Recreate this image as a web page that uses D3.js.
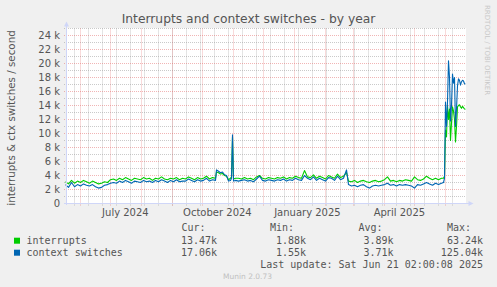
<!DOCTYPE html>
<html>
<head>
<meta charset="utf-8">
<script src="https://cdn.jsdelivr.net/npm/d3@7"></script>
<style>
body { margin: 0; background: #f0f0f0; }
svg { display: block; font-family: "DejaVu Sans", sans-serif; }
.mono { font-family: "DejaVu Sans Mono", monospace; }
</style>
</head>
<body>
<svg id="chart" width="497" height="287"></svg>
<script>
// graph window (munin "by year" = 400 days)
var startDate = new Date(2024, 4, 17, 2, 0, 0);
var endDate = new Date(2025, 5, 21, 2, 0, 8);

// sample positions, in days after startDate
var dayOffsets = [
  0, 3, 6, 9, 12, 15, 18, 21, 24, 27, 30, 33, 36, 39, 42, 45,
  48, 51, 54, 57, 60, 63, 66, 69, 72, 75, 78, 81, 84, 87, 90, 93, 96, 99, 102, 105,
  108, 111, 114, 117, 120, 123, 126, 129, 132, 135, 138, 141, 144, 147, 150,
  151, 153, 155, 157, 159, 161, 163, 165, 166, 167, 168, 170,
  173, 176, 179, 182, 185, 188, 191, 194, 197, 200, 203, 206, 209, 212, 215, 218,
  221, 224, 227, 230, 233, 236, 239, 242, 245, 248, 251, 254, 257, 260, 263, 266,
  269, 272, 275, 278, 281,
  283, 286, 289, 292, 295, 298, 301, 304, 307, 310, 313, 316, 319, 322, 325, 328,
  331, 334, 337, 340, 343, 346, 349, 352, 355, 358, 361, 364, 367, 370, 373, 376,
  378, 379, 380, 381, 382, 383, 384, 385, 386, 387, 388, 389, 390, 391, 392, 393,
  394, 395, 396, 397, 398, 399, 400
];

// interrupts per second, in thousands
var interrupts = [
  3.1, 2.8, 3.3, 2.9, 3.2, 3.0, 3.3, 3.1, 2.9, 3.2, 3.0, 2.8, 2.9, 3.1, 3.0, 3.4,
  3.5, 3.3, 3.6, 3.4, 3.7, 3.5, 3.3, 3.6, 3.5, 3.4, 3.7, 3.5, 3.6, 3.3, 3.6, 3.5, 3.8, 3.5, 3.4, 3.6,
  3.5, 3.7, 3.4, 3.6, 3.5, 3.8, 3.6, 3.4, 3.7, 3.5, 3.6, 3.9, 3.5, 3.7, 3.6,
  4.5, 4.4, 4.2, 4.3, 4.0, 3.9, 3.4, 3.6, 3.8, 9.5, 3.5, 3.6,
  3.6, 3.5, 3.7, 3.5, 3.6, 3.4, 3.8, 4.0, 3.6, 3.5, 3.7, 3.6, 3.5, 3.7, 3.6, 3.8,
  3.5, 3.7, 3.6, 3.9, 3.7, 3.6, 4.7, 3.8, 3.7, 4.1, 3.6, 3.9, 3.7, 3.5, 4.0, 3.8,
  3.6, 4.2, 3.7, 3.9, 4.4,
  3.2, 3.1, 3.3, 3.0, 3.2, 3.3, 3.1, 3.0, 3.2, 3.3, 3.1, 3.2, 3.4, 3.8, 3.2, 3.3,
  3.1, 3.3, 3.2, 3.4, 3.3, 3.2, 3.8, 3.4, 3.3, 3.5, 3.9, 3.6, 3.4, 3.6, 3.4, 3.6,
  3.6, 3.9, 10.5, 9.5, 14.0, 12.0, 13.5, 9.0, 11.5, 13.8, 13.2, 12.0, 8.8, 11.0, 13.8, 14.0,
  14.1, 13.8, 13.6, 13.9, 13.7, 13.5, 13.47
];

// context switches per second, in thousands
var ctxSwitches = [
  2.7, 2.3, 3.0, 2.4, 2.7, 2.5, 2.8, 2.6, 2.5, 2.7, 2.4, 2.2, 2.3, 2.6, 2.7, 2.9,
  3.0, 2.9, 3.2, 3.0, 3.3, 3.1, 2.9, 3.2, 3.1, 3.0, 3.3, 3.1, 3.2, 3.0, 3.3, 3.1, 3.4, 3.2, 3.0, 3.3,
  3.1, 3.4, 3.1, 3.2, 3.2, 3.5, 3.3, 3.1, 3.4, 3.2, 3.3, 3.6, 3.2, 3.4, 3.3,
  4.8, 4.6, 4.4, 4.5, 4.1, 4.0, 3.2, 3.3, 3.6, 9.8, 3.2, 3.3,
  3.2, 3.3, 3.4, 3.2, 3.3, 3.1, 3.5, 3.9, 3.3, 3.2, 3.4, 3.3, 3.2, 3.4, 3.3, 3.5,
  3.2, 3.4, 3.3, 3.6, 3.4, 3.3, 4.0, 3.6, 3.4, 3.8, 3.3, 3.6, 3.4, 3.2, 3.7, 3.6,
  3.3, 3.9, 3.4, 3.6, 4.8,
  2.7, 2.5, 2.6, 2.4, 2.6, 2.7, 2.4, 2.2, 2.5, 2.6, 2.5, 2.6, 2.7, 2.9, 2.6, 2.7,
  2.5, 2.7, 2.6, 2.7, 2.6, 2.5, 2.2, 2.7, 2.6, 2.8, 3.0, 2.8, 2.6, 2.9, 2.7, 2.9,
  3.0, 3.6, 14.5, 11.0, 14.5, 20.4, 18.0, 11.8, 14.0, 18.5, 17.2, 18.0, 11.0, 13.5, 16.8, 17.8,
  17.6, 16.9, 17.4, 17.6, 17.5, 17.1, 17.06
];

var yMajorTicks = [0, 2, 4, 6, 8, 10, 12, 14, 16, 18, 20, 22, 24];
var yMinorTicks = [1, 3, 5, 7, 9, 11, 13, 15, 17, 19, 21, 23, 25];
var monthLabels = ["July 2024", "October 2024", "January 2025", "April 2025"];
var monthLabelDates = ["2024-07-16", "2024-10-16", "2025-01-14", "2025-04-16"];

var legendNames = ["interrupts", "context switches"];
var legendColors = ["#00cc00", "#0066b3"];
var curVals = ["13.47k", "17.06k"];
var minVals = ["1.88k", "1.55k"];
var avgVals = ["3.89k", "3.71k"];
var maxVals = ["63.24k", "125.04k"];

var svg = d3.select("#chart");
svg.append("rect").attr("width", 497).attr("height", 287).attr("fill", "#f0f0f0");

var x = d3.scaleTime().domain([startDate, endDate]).range([65.5, 465.5]);
var y = d3.scaleLinear().domain([0, 25]).range([203.5, 28.5]);
var parseDay = d3.timeParse("%Y-%m-%d");

// canvas
svg.append("rect").attr("x", 66).attr("y", 28).attr("width", 400).attr("height", 175.5).attr("fill", "#fff");

var grid = svg.append("g");
var minorColor = "rgba(150,150,150,0.5)";
var majorColor = "rgba(225,90,90,0.45)";

// minor grid: every other sunday, and every 1k
var sundays = d3.timeSunday.range(startDate, endDate).filter(function(d, i) { return i % 2 === 1; });
grid.selectAll(".vminor").data(sundays).enter().append("line")
  .attr("x1", function(d) { return Math.round(x(d)) + 0.5; })
  .attr("x2", function(d) { return Math.round(x(d)) + 0.5; })
  .attr("y1", 28.5).attr("y2", 205.5)
  .attr("stroke", minorColor).attr("stroke-dasharray", "1,1");
grid.selectAll(".hminor").data(yMinorTicks).enter().append("line")
  .attr("x1", 64).attr("x2", 466)
  .attr("y1", function(d) { return y(d); }).attr("y2", function(d) { return y(d); })
  .attr("stroke", minorColor).attr("stroke-dasharray", "1,1");

// major grid: month starts and every 2k
var months = d3.timeMonth.range(startDate, endDate);
grid.selectAll(".vmajor").data(months).enter().append("line")
  .attr("x1", function(d) { return Math.round(x(d)) + 0.5; })
  .attr("x2", function(d) { return Math.round(x(d)) + 0.5; })
  .attr("y1", 28.5).attr("y2", 205.5)
  .attr("stroke", majorColor).attr("stroke-dasharray", "1,1");
grid.selectAll(".hmajor").data(yMajorTicks.slice(1)).enter().append("line")
  .attr("x1", 64).attr("x2", 466)
  .attr("y1", function(d) { return y(d); }).attr("y2", function(d) { return y(d); })
  .attr("stroke", majorColor).attr("stroke-dasharray", "1,1");

// lines
var line = d3.line()
  .x(function(d) { return x(d3.timeDay.offset(startDate, d[0])); })
  .y(function(d) { return y(d[1]); });

[interrupts, ctxSwitches].forEach(function(series, k) {
  var pts = dayOffsets.map(function(dd, i) { return [dd, series[i]]; });
  svg.append("path").datum(pts)
    .attr("d", line)
    .attr("fill", "none")
    .attr("stroke", legendColors[k])
    .attr("stroke-width", 1.1)
    .attr("stroke-linejoin", "round");
});

// axes + arrows
var axisColor = "#cfd6f8";
svg.append("line").attr("x1", 66.5).attr("x2", 66.5).attr("y1", 25).attr("y2", 205).attr("stroke", axisColor);
svg.append("line").attr("x1", 64).attr("x2", 470).attr("y1", 203.5).attr("y2", 203.5).attr("stroke", axisColor);
svg.append("path").attr("d", "M64,26.5L69,26.5L66.5,21.5Z").attr("fill", axisColor);
svg.append("path").attr("d", "M468.5,201L468.5,206L473.5,203.5Z").attr("fill", axisColor);

var fontColor = "#555";

// y tick labels
svg.selectAll(".ylab").data(yMajorTicks).enter().append("text")
  .attr("x", 60).attr("y", function(d) { return y(d); })
  .attr("dy", "0.36em")
  .attr("text-anchor", "end")
  .attr("font-size", 10)
  .attr("fill", fontColor)
  .text(function(d) { return d === 0 ? "0" : d + " k"; });

// x labels
svg.selectAll(".xlab").data(monthLabels).enter().append("text")
  .attr("x", function(d, i) { return x(parseDay(monthLabelDates[i])); })
  .attr("y", 216)
  .attr("text-anchor", "middle")
  .attr("font-size", 10)
  .attr("fill", fontColor)
  .text(function(d) { return d; });

// title
svg.append("text").attr("x", 248.5).attr("y", 23)
  .attr("text-anchor", "middle").attr("font-size", 12.3)
  .attr("fill", fontColor)
  .text("Interrupts and context switches - by year");

// vertical label
svg.append("text")
  .attr("transform", "translate(15,118) rotate(-90)")
  .attr("text-anchor", "middle").attr("font-size", 10.3)
  .attr("fill", fontColor)
  .text("interrupts & ctx switches / second");

// watermark
svg.append("text")
  .attr("transform", "translate(485,5) rotate(90)")
  .attr("font-size", 7).attr("fill", "#c8c8c8")
  .text("RRDTOOL / TOBI OETIKER");

// legend
var leg = svg.append("g").attr("class", "mono").attr("font-size", 10).attr("fill", fontColor);
[["Cur:", 181.5], ["Min:", 270], ["Avg:", 358.5], ["Max:", 447]].forEach(function(h) {
  leg.append("text").attr("x", h[1]).attr("y", 231).text(h[0]);
});
legendNames.forEach(function(name, i) {
  var by = 243.5 + i * 12;
  leg.append("rect").attr("x", 14).attr("y", by - 5.8).attr("width", 6).attr("height", 6).attr("fill", legendColors[i]);
  leg.append("text").attr("x", 26.5).attr("y", by).text(name);
  leg.append("text").attr("x", 217).attr("y", by).attr("text-anchor", "end").text(curVals[i]);
  leg.append("text").attr("x", 306).attr("y", by).attr("text-anchor", "end").text(minVals[i]);
  leg.append("text").attr("x", 393.5).attr("y", by).attr("text-anchor", "end").text(avgVals[i]);
  leg.append("text").attr("x", 483).attr("y", by).attr("text-anchor", "end").text(maxVals[i]);
});
leg.append("text").attr("x", 483).attr("y", 267.5).attr("text-anchor", "end")
  .text("Last update: Sat Jun 21 02:00:08 2025");

svg.append("text").attr("x", 247.5).attr("y", 279)
  .attr("text-anchor", "middle").attr("font-size", 7.5).attr("fill", "#c0c0c0")
  .text("Munin 2.0.73");
</script>
</body>
</html>
